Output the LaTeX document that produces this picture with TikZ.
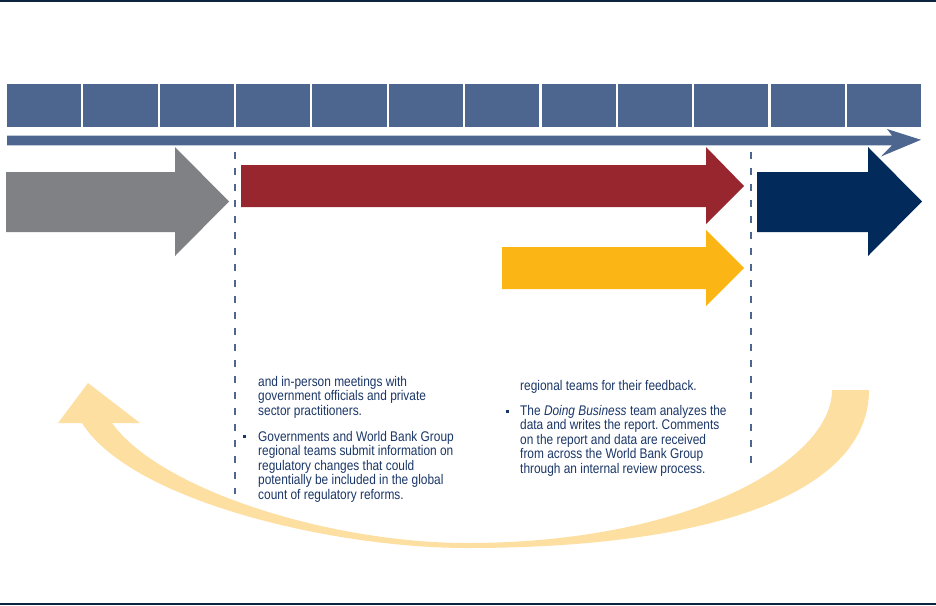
\documentclass[tikz,border=0pt]{standalone}
\usepackage{fontspec}
\setmainfont[FakeStretch=0.85]{Liberation Sans}
\definecolor{steel}{HTML}{4D6690}
\definecolor{navyline}{HTML}{0C2340}
\definecolor{ink}{HTML}{1A3668}
\definecolor{greyarrow}{HTML}{808184}
\definecolor{redarrow}{HTML}{97262E}
\definecolor{goldarrow}{HTML}{FBB615}
\definecolor{navyarrow}{HTML}{022B5C}
\definecolor{cream}{HTML}{FEDFA2}
\frenchspacing
\begin{document}
\begin{tikzpicture}[x=1pt,y=-1pt,
  rule/.style={fill=navyline},
  cell/.style={fill=steel},
  divider/.style={draw=steel,line width=2pt,dash pattern=on 7pt off 9pt},
  txt/.style={font=\fontsize{14}{14.5}\selectfont,text=ink,inner sep=0pt,anchor=base west},
  bulletmark/.style={fill=ink}]
\useasboundingbox (0,0) rectangle (936,605);

% frame rules
\fill[rule] (0,0) rectangle (936,1.6);
\fill[rule] (0,602.5) rectangle (936,605);

% twelve timeline cells
\foreach \i in {0,...,11}
  \fill[cell] ({7+\i*76.36},84) rectangle ({81.2+\i*76.36},127);

% timeline arrow
\fill[steel] (7,135.5) -- (892,135.5) -- (887,129) -- (921,139.8)
  -- (881,156.5) -- (892,145.3) -- (7,145.3) -- cycle;

% phase arrows
\fill[greyarrow] (6,172) -- (175,172) -- (175,147) -- (229,201.5)
  -- (175,256) -- (175,232) -- (6,232) -- cycle;
\fill[redarrow] (241,165) -- (706,165) -- (706,147) -- (744,186)
  -- (706,224) -- (706,207) -- (241,207) -- cycle;
\fill[goldarrow] (502,247) -- (706,247) -- (706,230) -- (744,268)
  -- (706,306) -- (706,289) -- (502,289) -- cycle;
\fill[navyarrow] (757,172) -- (868,172) -- (868,147) -- (922,201.5)
  -- (868,256) -- (868,232) -- (757,232) -- cycle;

% phase dividers
\draw[divider] (235,152) -- (235,494);
\draw[divider] (750.5,152) -- (750.5,471);

% feedback loop arrow
\fill[cream] (869,390) .. controls (869,490) and (720,548) .. (467,548)
  .. controls (330,548) and (130,500) .. (82,423)
  -- (58,423) -- (88,383) -- (140,423) -- (112,423)
  .. controls (160,490) and (330,543) .. (467,543)
  .. controls (690,543) and (832,460) .. (832,390) -- cycle;

% text, first block
\node[txt] (meetings) at (258,386) {\begin{tabular}[t]{@{}l@{}}and in-person meetings with\\government officials and private\\sector practitioners.\end{tabular}};
\fill[bulletmark] (243,435) rectangle +(3,3);
\node[txt] (submit) at (258,441) {\begin{tabular}[t]{@{}l@{}}Governments and World Bank Group\\regional teams submit information on\\regulatory changes that could\\potentially be included in the global\\count of regulatory reforms.\end{tabular}};

% text, second block
\node[txt] (feedback) at (520,390.7) {\begin{tabular}[t]{@{}l@{}}regional teams for their feedback.\end{tabular}};
\fill[bulletmark] (505.5,409.5) rectangle +(3,3);
\node[txt] (analysis) at (520,415.3) {\begin{tabular}[t]{@{}l@{}}The \textit{Doing Business} team analyzes the\\data and writes the report. Comments\\on the report and data are received\\from across the World Bank Group\\through an internal review process.\end{tabular}};
\end{tikzpicture}
\end{document}
